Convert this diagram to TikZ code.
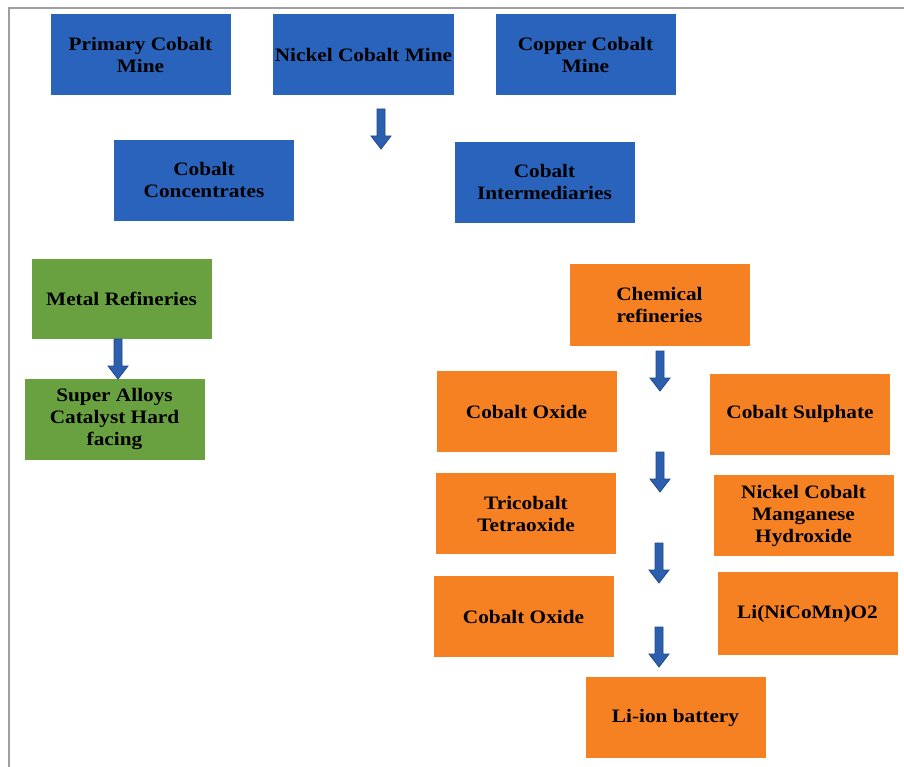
\documentclass[tikz,border=0pt]{standalone}
\usepackage{fontspec}
\setmainfont{Liberation Serif}[FakeStretch=1.12]
\definecolor{cblue}{HTML}{2A63BC}
\definecolor{corange}{HTML}{F58123}
\definecolor{cgreen}{HTML}{6AA140}
\definecolor{afill}{HTML}{2D5FAF}
\definecolor{aedge}{HTML}{1E4A8E}
\tikzset{
  box/.style={minimum width=180pt,minimum height=81pt,inner sep=2pt,align=center,
    font=\fontsize{19}{22}\selectfont\bfseries,text=black},
  bluebox/.style={box,fill=cblue},
  orangebox/.style={box,fill=corange},
  greenbox/.style={box,fill=cgreen},
  darrow/.pic={\draw[fill=afill,draw=aedge,line width=0.8pt,line join=miter]
    (-4,0)--(4,0)--(4,27)--(10,27)--(0,40)--(-10,27)--(-4,27)--cycle;},
  frameline/.style={draw=gray!75,line width=2pt}
}
\begin{document}
\begin{tikzpicture}[x=1pt,y=-1pt]
\useasboundingbox (0,0) rectangle (904,767);
\coordinate (ftop) at (904,8);
\coordinate (fcorner) at (9,8);
\coordinate (fbot) at (9,767);
\draw[frameline] (ftop) -- (fcorner) -- (fbot);
\node[bluebox] (pcm) at (140.5,55) {Primary Cobalt\\Mine};
\node[bluebox] (ncm) at (363.5,55) {Nickel Cobalt Mine};
\node[bluebox] (ccm) at (585.5,55) {Copper Cobalt\\Mine};
\node[bluebox] (conc) at (204,180.5) {Cobalt\\Concentrates};
\node[bluebox] (inter) at (544.5,182.5) {Cobalt\\Intermediaries};
\node[greenbox,minimum height=80pt] (metal) at (121.5,299) {Metal Refineries};
\node[greenbox] (alloy) at (114.5,419.5) {Super Alloys\\Catalyst Hard\\facing};
\node[orangebox,minimum height=82pt] (chem) at (659.5,305) {Chemical\\refineries};
\node[orangebox] (co1) at (526.5,411.5) {Cobalt Oxide};
\node[orangebox] (sulph) at (800,414) {Cobalt Sulphate};
\node[orangebox] (tri) at (526,513.5) {Tricobalt\\Tetraoxide};
\node[orangebox] (ncmh) at (803.5,515.5) {Nickel Cobalt\\Manganese\\Hydroxide};
\node[orangebox] (co2) at (523.5,616.5) {Cobalt Oxide};
\node[orangebox,minimum height=83pt] (li) at (807.5,613.5) {Li(NiCoMn)O2};
\node[orangebox] (bat) at (675.5,717.5) {Li-ion battery};
\pic at (381,109) {darrow};
\pic at (118,339) {darrow};
\pic at (660,351) {darrow};
\pic at (660,452) {darrow};
\pic at (659,543) {darrow};
\pic at (659,627) {darrow};
\end{tikzpicture}
\end{document}
